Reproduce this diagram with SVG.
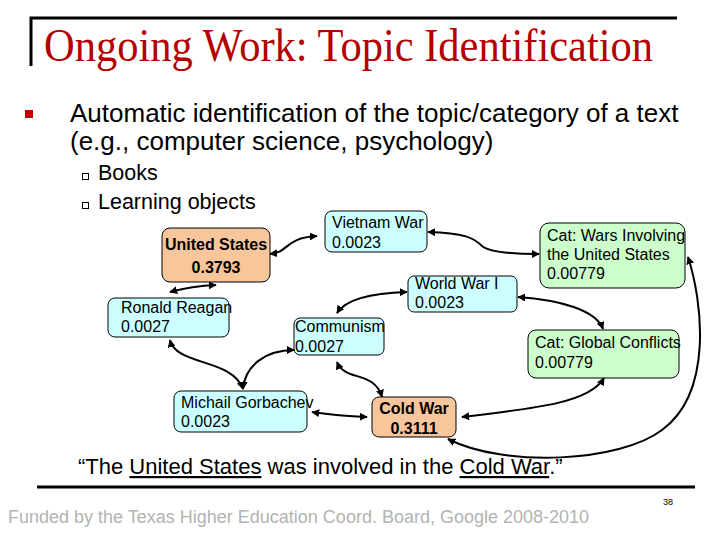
<svg xmlns="http://www.w3.org/2000/svg" width="720" height="540" viewBox="0 0 720 540">
<defs>
<marker id="ah" viewBox="0 0 10 10" refX="9" refY="5" markerWidth="4" markerHeight="4" orient="auto-start-reverse">
<path d="M0,0 L10,5 L0,10 z" fill="#000"/>
</marker>
<style>
.t{font-family:"Liberation Sans",Arial,sans-serif;fill:#000}
.n{font-family:"Liberation Sans",Arial,sans-serif;font-size:16px;fill:#000}
.b{font-family:"Liberation Sans",Arial,sans-serif;font-size:16px;font-weight:bold;fill:#000}
.blue{fill:#ccffff;stroke:#000;stroke-width:1}
.org{fill:#f9c59b;stroke:#000;stroke-width:1}
.grn{fill:#ccffcc;stroke:#000;stroke-width:1}
.c{fill:none;stroke:#000;stroke-width:2;marker-start:url(#ah);marker-end:url(#ah)}
</style>
</defs>
<rect width="720" height="540" fill="#fff"/>
<g id="header">
<path d="M31,66 V18 H677" fill="none" stroke="#000" stroke-width="3"/>
<text x="44" y="61" font-family="'Liberation Serif','Times New Roman',serif" font-size="46" fill="#b30000" textLength="609" lengthAdjust="spacingAndGlyphs">Ongoing Work: Topic Identification</text>
</g>
<g id="bullets">
<rect x="25" y="110" width="8" height="8" fill="#c00000"/>
<text class="t" x="70" y="122" font-size="26">Automatic identification of the topic/category of a text</text>
<text class="t" x="70" y="150" font-size="26">(e.g., computer science, psychology)</text>
<rect x="82.5" y="173.5" width="6" height="6" fill="none" stroke="#000" stroke-width="1"/>
<text class="t" x="98" y="180" font-size="21.5">Books</text>
<rect x="82.5" y="202.5" width="6" height="6" fill="none" stroke="#000" stroke-width="1"/>
<text class="t" x="98" y="209" font-size="21.5">Learning objects</text>
</g>
<g id="connectors">
<path class="c" d="M270,254 C290,252 284,238 317,236"/>
<path class="c" d="M170,292 Q192,286 216,285"/>
<path class="c" d="M428,232 C465,233 474,238 482,246 C489,252 510,254 539,254"/>
<path class="c" d="M337,313 C346,299 372,293 407,292"/>
<path class="c" d="M518,297 C560,300 596,310 603,329"/>
<path class="c" d="M688,257 C702,300 714,392 662,430 C620,462 505,468 448,439"/>
<path class="c" d="M604,378 C590,402 540,408 462,417"/>
<path class="c" d="M337,362 C345,382 374,370 382,397"/>
<path class="c" d="M312,412 Q338,416 367,417"/>
<path class="c" d="M170,340 C176,366 232,358 243,389"/>
<path class="c" d="M243,389 C245,366 265,350 294,350"/>
</g>
<g id="united-states">
<rect class="org" x="162" y="228" width="108" height="54" rx="8"/>
<text class="b" x="216" y="250" text-anchor="middle">United States</text>
<text class="b" x="216" y="273" text-anchor="middle">0.3793</text>
</g>
<g id="vietnam-war">
<rect class="blue" x="325" y="211" width="102" height="41" rx="7"/>
<text class="n" x="332" y="228">Vietnam War</text>
<text class="n" x="332" y="248">0.0023</text>
</g>
<g id="ronald-reagan">
<rect class="blue" x="108" y="298" width="121" height="39" rx="7"/>
<text class="n" x="121" y="313">Ronald Reagan</text>
<text class="n" x="121" y="332">0.0027</text>
</g>
<g id="communism">
<rect class="blue" x="294" y="318" width="90" height="37" rx="6"/>
<text class="n" x="295" y="332">Communism</text>
<text class="n" x="295" y="352">0.0027</text>
</g>
<g id="world-war-i">
<rect class="blue" x="408" y="276" width="109" height="36" rx="6"/>
<text class="n" x="415" y="289">World War I</text>
<text class="n" x="415" y="308">0.0023</text>
</g>
<g id="cat-wars">
<rect class="grn" x="540" y="223" width="145" height="65" rx="9"/>
<text class="n" x="547" y="241">Cat: Wars Involving</text>
<text class="n" x="547" y="260">the United States</text>
<text class="n" x="547" y="279">0.00779</text>
</g>
<g id="cat-global">
<rect class="grn" x="528" y="330" width="151" height="48" rx="8"/>
<text class="n" x="535" y="348">Cat: Global Conflicts</text>
<text class="n" x="535" y="368">0.00779</text>
</g>
<g id="gorbachev">
<rect class="blue" x="174" y="391" width="133" height="41" rx="7"/>
<text class="n" x="181" y="408">Michail Gorbachev</text>
<text class="n" x="181" y="427">0.0023</text>
</g>
<g id="cold-war">
<rect class="org" x="372" y="397" width="84" height="40" rx="7"/>
<text class="b" x="414" y="414" text-anchor="middle">Cold War</text>
<text class="b" x="414" y="434" text-anchor="middle">0.3111</text>
</g>
<g id="footer">
<text class="t" x="78" y="474" font-size="22">“The <tspan text-decoration="underline">United States</tspan> was involved in the <tspan text-decoration="underline">Cold War</tspan>.”</text>
<line x1="37" y1="487" x2="695" y2="487" stroke="#000" stroke-width="3"/>
<text class="t" x="8" y="523" font-size="18" style="fill:#b3b3b3">Funded by the Texas Higher Education Coord. Board, Google 2008-2010</text>
<text class="t" x="663" y="505" font-size="9">38</text>
</g>
</svg>
